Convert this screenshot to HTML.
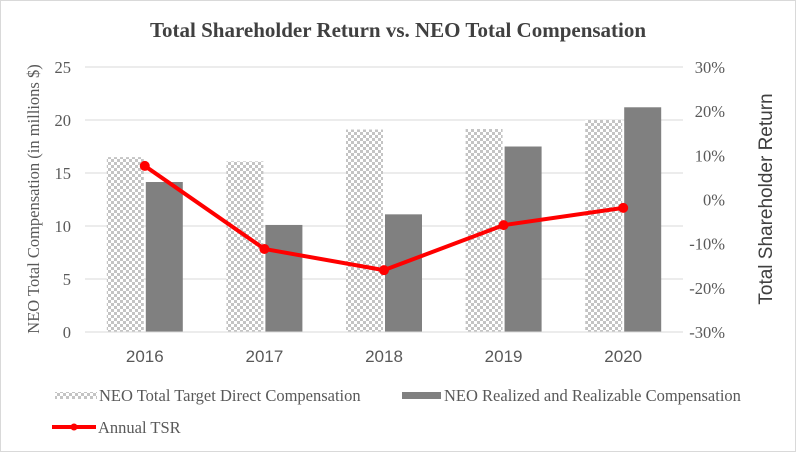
<!DOCTYPE html>
<html><head><meta charset="utf-8"><style>
body{margin:0;background:#fff}
svg{display:block;font-family:"Liberation Serif",serif}
</style></head><body>
<svg width="796" height="452" viewBox="0 0 796 452">
<defs><pattern id="chk" width="6" height="6" patternUnits="userSpaceOnUse"><rect width="6" height="6" fill="#fff"/><rect width="3" height="3" fill="#c4c4c4"/><rect x="3" y="3" width="3" height="3" fill="#c4c4c4"/></pattern></defs>
<rect x="0.5" y="0.5" width="795" height="451" fill="#fff" stroke="#d9d9d9"/>
<text x="398" y="37" text-anchor="middle" font-size="21" font-weight="bold" fill="#404040">Total Shareholder Return vs. NEO Total Compensation</text>
<g id="grid"></g><g id="bars"></g><g id="line"></g><g id="axes"></g>
<text transform="translate(39,199) rotate(-90)" text-anchor="middle" font-size="16.5" fill="#595959">NEO Total Compensation (in millions $)</text>
<text transform="translate(772,199) rotate(-90)" text-anchor="middle" font-size="19" fill="#404040" font-family="Liberation Sans, sans-serif">Total Shareholder Return</text>
<g>
<rect x="55" y="392" width="42" height="7" fill="url(#chk)"/>
<text x="99" y="401" font-size="16.5" fill="#595959">NEO Total Target Direct Compensation</text>
<rect x="402" y="392" width="39" height="7" fill="#808080"/>
<text x="444" y="401" font-size="16.5" fill="#595959">NEO Realized and Realizable Compensation</text>
<line x1="52" y1="427" x2="96" y2="427" stroke="#f00" stroke-width="4"/>
<circle cx="74" cy="427" r="3.5" fill="#f00"/>
<text x="98" y="433" font-size="16.5" fill="#595959">Annual TSR</text>
</g>
</svg>
<script>
const categories=["2016","2017","2018","2019","2020"];
const targetComp=[16.5,16.1,19.1,19.15,20.0];
const realizedComp=[14.15,10.1,11.1,17.5,21.2];
const tsr=[7.6,-11.2,-16.0,-5.8,-1.9];
const leftTicks=[0,5,10,15,20,25];
const rightTicks=[-30,-20,-10,0,10,20,30];
const NS="http://www.w3.org/2000/svg";
const X0=85,X1=683,Y0=332,Y1=67;
const catW=(X1-X0)/categories.length;
const xc=i=>X0+catW*(i+0.5);
const yL=v=>Y0-(v/25)*(Y0-Y1);
const yR=v=>Y0-((v+30)/60)*(Y0-Y1);
function mk(tag,attrs,parent,txt){const e=document.createElementNS(NS,tag);for(const k in attrs)e.setAttribute(k,attrs[k]);if(txt!=null)e.textContent=txt;document.getElementById(parent).appendChild(e);return e;}
leftTicks.forEach(t=>{
 if(t>0){const g=mk('line',{x1:X0,x2:X1,y1:yL(t),y2:yL(t),stroke:'#d9d9d9','stroke-width':1},'grid');
 
 }
 const l=mk('text',{x:71,y:yL(t)+6,'text-anchor':'end','font-size':16.5,fill:'#595959'},'axes',String(t));
 
 
});
rightTicks.forEach(t=>{
 const l=mk('text',{x:725,y:yR(t)+6,'text-anchor':'end','font-size':16.5,fill:'#595959'},'axes',t+'%');
 
 
});
const ax=mk('line',{x1:X0,x2:X1,y1:Y0,y2:Y0,stroke:'#d9d9d9','stroke-width':1},'axes');


const bw=37;
categories.forEach((c,i)=>{
 const cx=xc(i);
 const b1=mk('rect',{x:cx-1-bw,y:yL(targetComp[i]),width:bw,height:Y0-yL(targetComp[i]),fill:'url(#chk)'},'bars');
 
 
 const b2=mk('rect',{x:cx+1,y:yL(realizedComp[i]),width:bw,height:Y0-yL(realizedComp[i]),fill:'#808080'},'bars');
 
 
 const t=mk('text',{x:cx,y:362,'text-anchor':'middle','font-size':17,fill:'#595959','font-family':'Liberation Sans, sans-serif'},'axes',c);
 
 
});
const pl=mk('polyline',{points:tsr.map((v,i)=>xc(i)+','+yR(v)).join(' '),fill:'none',stroke:'#f00','stroke-width':4,'stroke-linejoin':'round'},'line');


tsr.forEach((v,i)=>{
 const p=mk('circle',{cx:xc(i),cy:yR(v),r:5,fill:'#f00'},'line');
 
 
});
</script>
</body></html>
